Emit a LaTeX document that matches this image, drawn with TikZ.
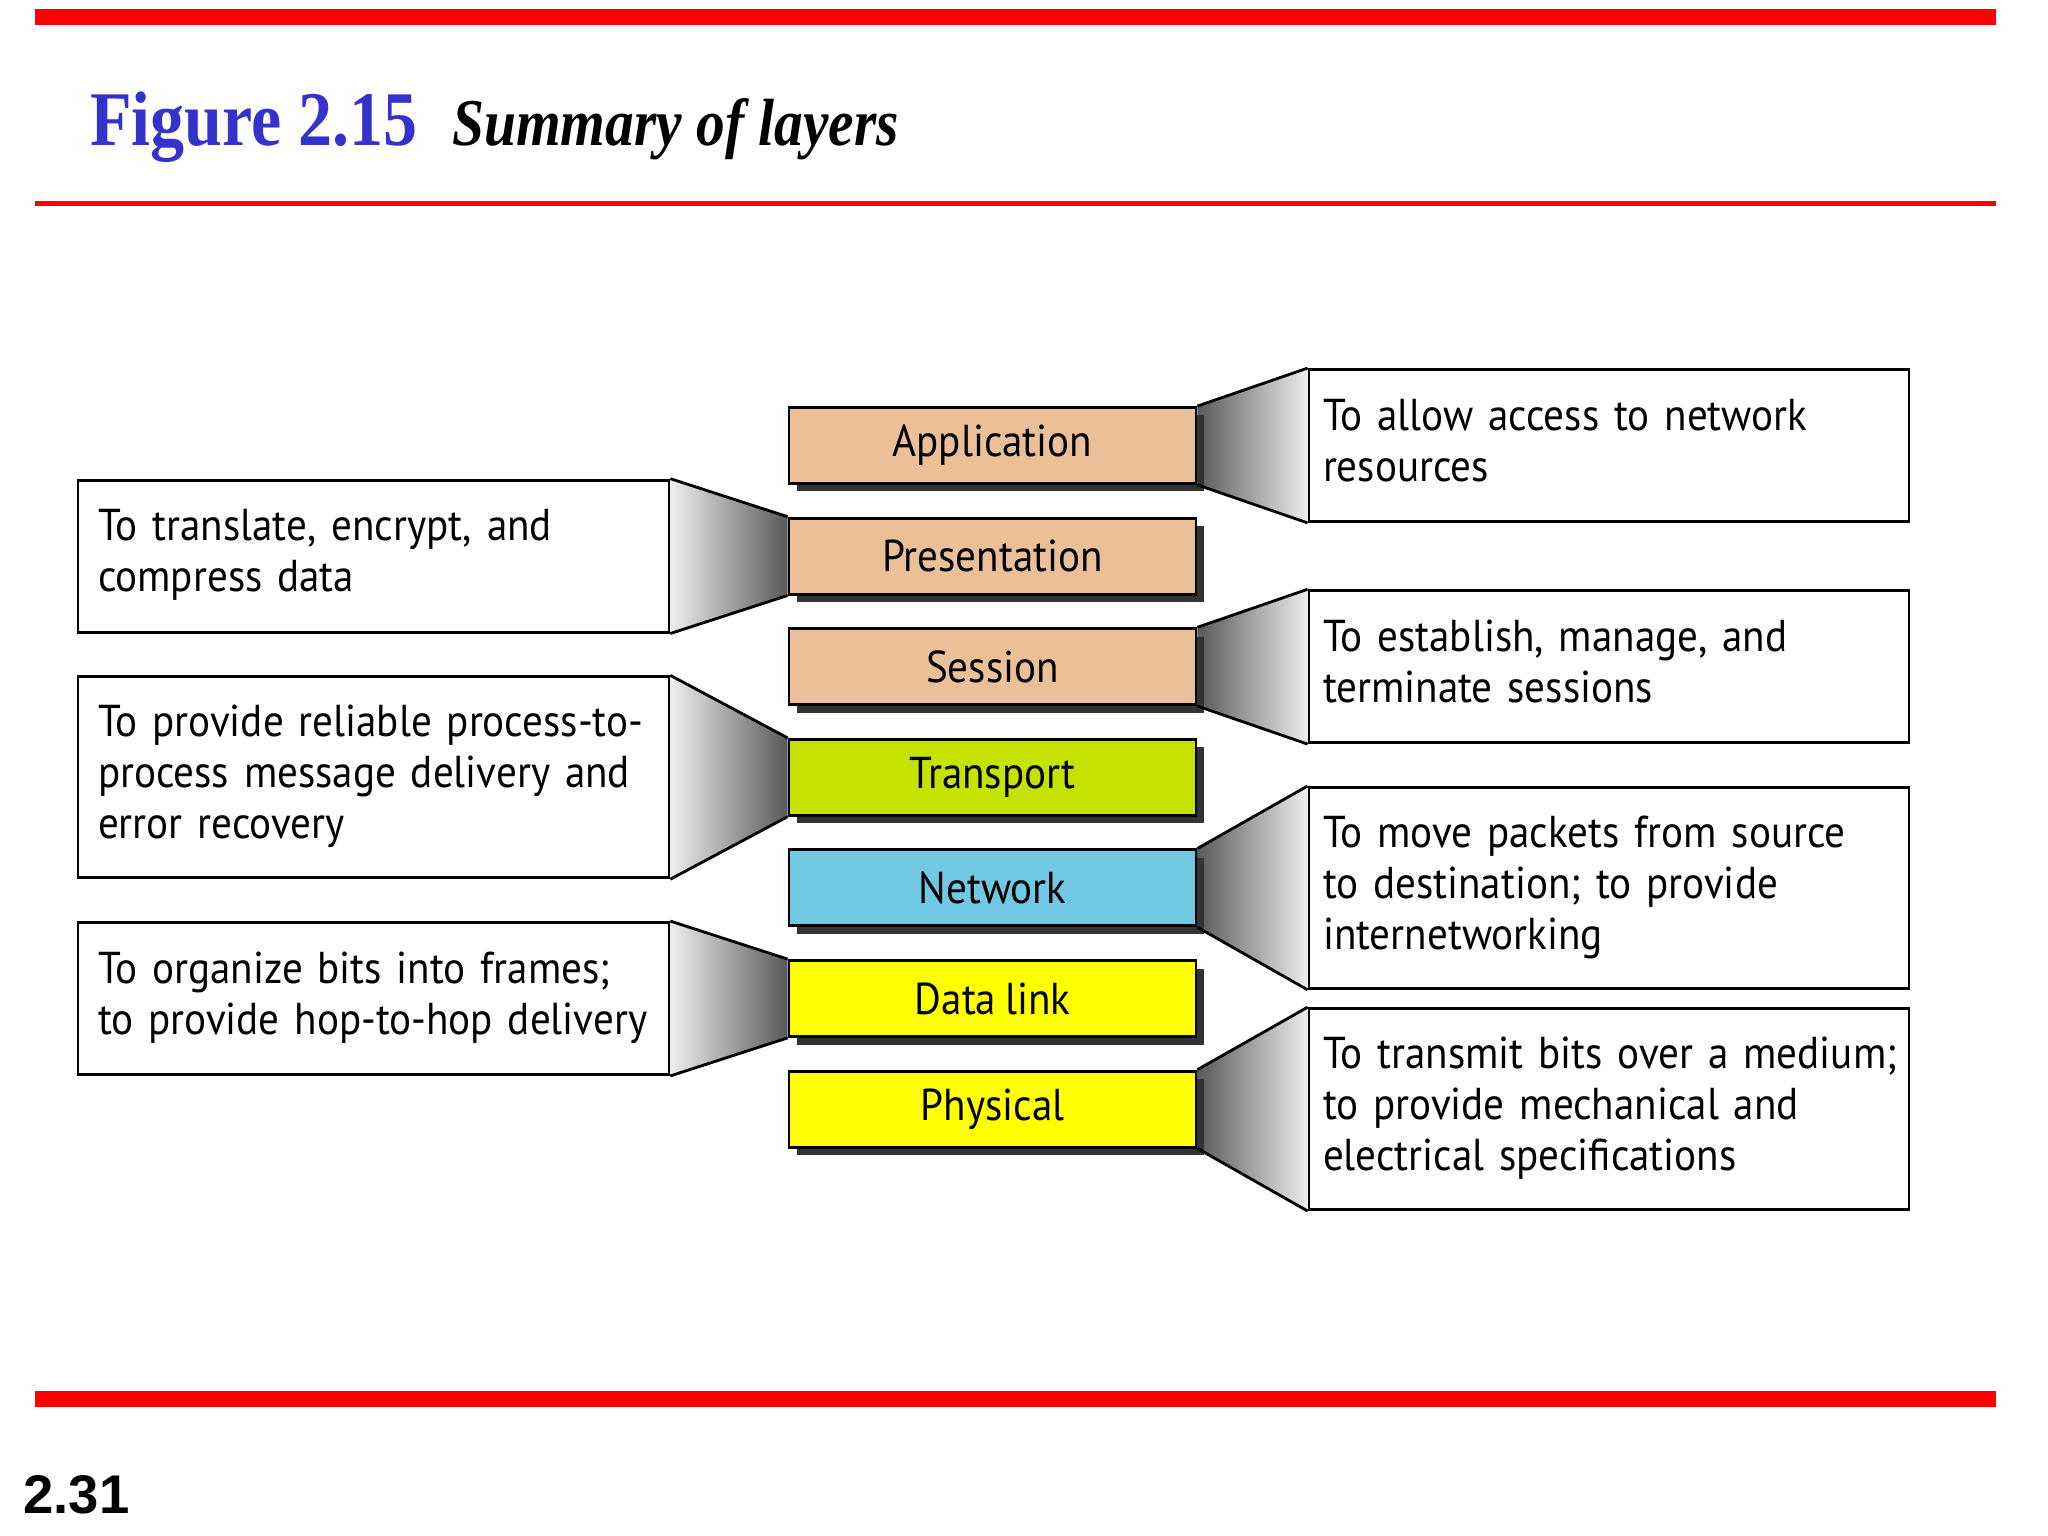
\documentclass[tikz,border=0pt]{standalone}
\usepackage{fontspec}
\setmainfont{Liberation Serif}
\newfontfamily\layerfont[FakeStretch=0.92, WordSpace=0.8]{PT Sans}
\newfontfamily\pagefont{Liberation Sans}
\usetikzlibrary{backgrounds, shadows}
\definecolor{rule}{RGB}{255, 0, 0}
\definecolor{titleblue}{RGB}{51, 51, 204}
\definecolor{upper}{RGB}{235, 192, 152}
\definecolor{lime}{RGB}{198, 226, 0}
\definecolor{sky}{RGB}{112, 200, 226}
\definecolor{lower}{RGB}{255, 255, 0}
\newcommand{\bodysize}{\layerfont\fontsize{12.7}{14.5}\selectfont}
\newcommand{\jobtext}[1]{\begin{tabular}{@{}l@{}}#1\end{tabular}}

\begin{document}
\begin{tikzpicture}[thick,
  layer/.style={draw, minimum width=4.07cm, minimum height=0.76cm,
    inner sep=0pt, font=\bodysize,
    drop shadow={shadow xshift=0.08cm, shadow yshift=-0.08cm,
      fill=black!80, opacity=1}},
  rjob/.style={draw, fill=white, align=left, text width=5.72cm,
    inner xsep=0.14cm, font=\bodysize},
  ljob/.style={draw, fill=white, align=left, text width=5.51cm,
    inner xsep=0.2cm, font=\bodysize},
  tofar/.style={left color=black!65, middle color=black!22, right color=black!7},
  tonear/.style={left color=black!7, middle color=black!22, right color=black!65}]

  \useasboundingbox (0, 0) rectangle (20.48, -15.36);

  % rules and title
  \fill[rule] (0.35, -0.09) rectangle (19.96, -0.25);
  \fill[rule] (0.35, -2.015) rectangle (19.96, -2.06);
  \fill[rule] (0.35, -13.91) rectangle (19.96, -14.07);
  \node[anchor=base west, inner sep=0pt, text=titleblue] (fig) at (0.89, -1.46)
    {\scalebox{0.88}[1]{\fontsize{22}{22}\selectfont\bfseries Figure 2.15}};
  \node[anchor=base west, inner sep=0pt] (cap) at (4.51, -1.46)
    {\scalebox{0.86}[1]{\fontsize{19}{19}\selectfont\bfseries\itshape Summary of layers}};
  \node[anchor=base west, inner sep=0pt, font=\pagefont\fontsize{15.5}{15.5}\selectfont\bfseries]
    (page) at (0.22, -15.13) {2.31};

  % the seven layers
  \node[layer, fill=upper] (app) at (9.925, -4.455) {Application};
  \node[layer, fill=upper] (pre) at (9.925, -5.561) {Presentation};
  \node[layer, fill=upper] (ses) at (9.925, -6.667) {Session};
  \node[layer, fill=lime] (tra) at (9.925, -7.773) {Transport};
  \node[layer, fill=sky] (net) at (9.925, -8.879) {Network};
  \node[layer, fill=lower] (dat) at (9.925, -9.985) {Data link};
  \node[layer, fill=lower] (phy) at (9.925, -11.091) {Physical};

  % what each layer does
  \node[rjob, minimum height=1.52cm] (appjob) at (16.09, -4.455)
    {\jobtext{To allow access to network\\resources}};
  \node[rjob, minimum height=1.52cm] (sesjob) at (16.09, -6.667)
    {\jobtext{To establish, manage, and\\terminate sessions}};
  \node[rjob, minimum height=2.01cm] (netjob) at (16.09, -8.879)
    {\jobtext{To move packets from source\\to destination; to provide\\internetworking}};
  \node[rjob, minimum height=2.01cm] (phyjob) at (16.09, -11.091)
    {\jobtext{To transmit bits over a medium;\\to provide mechanical and\\electrical specifications}};
  \node[ljob, minimum height=1.52cm] (prejob) at (3.735, -5.561)
    {\jobtext{To translate, encrypt, and\\compress data}};
  \node[ljob, minimum height=2.01cm] (trajob) at (3.735, -7.773)
    {\jobtext{To provide reliable process-to-\\process message delivery and\\error recovery}};
  \node[ljob, minimum height=1.52cm] (datjob) at (3.735, -9.985)
    {\jobtext{To organize bits into frames;\\to provide hop-to-hop delivery}};

  % funnels
  \begin{scope}[on background layer]
    \shade[tofar] (app.north east) -- (appjob.north west) -- (appjob.south west) -- (app.south east) -- cycle;
    \shade[tofar] (ses.north east) -- (sesjob.north west) -- (sesjob.south west) -- (ses.south east) -- cycle;
    \shade[tofar] (net.north east) -- (netjob.north west) -- (netjob.south west) -- (net.south east) -- cycle;
    \shade[tofar] (phy.north east) -- (phyjob.north west) -- (phyjob.south west) -- (phy.south east) -- cycle;
    \shade[tonear] (prejob.north east) -- (pre.north west) -- (pre.south west) -- (prejob.south east) -- cycle;
    \shade[tonear] (trajob.north east) -- (tra.north west) -- (tra.south west) -- (trajob.south east) -- cycle;
    \shade[tonear] (datjob.north east) -- (dat.north west) -- (dat.south west) -- (datjob.south east) -- cycle;
  \end{scope}
  \draw (app.north east) -- (appjob.north west);
  \draw (app.south east) -- (appjob.south west);
  \draw (ses.north east) -- (sesjob.north west);
  \draw (ses.south east) -- (sesjob.south west);
  \draw (net.north east) -- (netjob.north west);
  \draw (net.south east) -- (netjob.south west);
  \draw (phy.north east) -- (phyjob.north west);
  \draw (phy.south east) -- (phyjob.south west);
  \draw (prejob.north east) -- (pre.north west);
  \draw (prejob.south east) -- (pre.south west);
  \draw (trajob.north east) -- (tra.north west);
  \draw (trajob.south east) -- (tra.south west);
  \draw (datjob.north east) -- (dat.north west);
  \draw (datjob.south east) -- (dat.south west);

\end{tikzpicture}
\end{document}
